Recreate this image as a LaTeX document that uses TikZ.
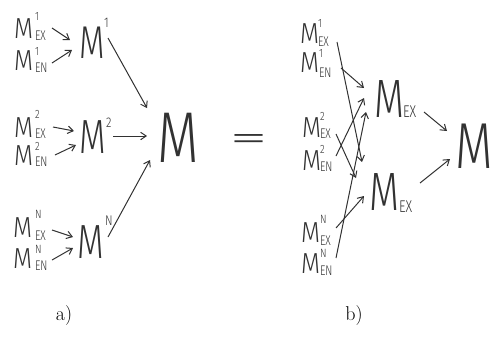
\documentclass[tikz,border=0pt]{standalone}
\usepackage{fontspec}
\usepackage{graphicx}
\usetikzlibrary{arrows.meta}
\IfFontExistsTF{Fira Sans Light}{\newfontfamily\hand{Fira Sans Light}}{%
  \IfFontExistsTF{Fira Sans ExtraLight}{\newfontfamily\hand{Fira Sans ExtraLight}}{%
    \IfFontExistsTF{Open Sans Light}{\newfontfamily\hand{Open Sans Light}}{%
      \newfontfamily\hand{Fira Sans}}}}
\definecolor{ink}{RGB}{50,50,50}
\newcommand\hw[3]{\scalebox{#1}[1]{\fontsize{#2}{#2}\selectfont\hand #3}}
\tikzset{
  glyph/.style={anchor=base west,inner sep=0pt,outer sep=0pt,text=ink},
  conn/.style={draw=ink,line width=1pt,-{Straight Barb[length=5.5pt,width=7.5pt]}},
}
% \lab{name}{x}{y}{sup}{supx}{supy}{sub}{subx}{suby}
\newcommand\lab[9]{%
  \node[glyph] (#1) at (#2,#3) {\hw{0.85}{29}{M}};
  \node[glyph] (#1-p) at (#5,#6) {\hw{0.8}{12}{#4}};
  \node[glyph] (#1-b) at (#8,#9) {\hw{0.75}{14}{#7}};
}
\begin{document}
\begin{tikzpicture}[x=1pt,y=-1pt]
\useasboundingbox (0,0) rectangle (492,343);
% ---------- a) ----------
\lab{a1x}{14}{38}{1}{35}{20}{EX}{35}{40}
\lab{a1n}{14}{70}{1}{35}{55}{EN}{35}{72}
\lab{a2x}{14}{137}{2}{35}{118}{EX}{35}{138}
\lab{a2n}{14}{165}{2}{35}{150}{EN}{35}{166}
\lab{aNx}{13}{237}{N}{35}{218}{EX}{35}{240}
\lab{aNn}{13}{268}{N}{35}{253}{EN}{35}{270}
\node[glyph] (M1) at (79,58) {\hw{0.72}{46}{M}};
\node[glyph] (M1p) at (104,27) {\hw{0.8}{14}{1}};
\node[glyph] (M2) at (79,153) {\hw{0.72}{48}{M}};
\node[glyph] (M2p) at (106,127) {\hw{0.8}{14}{2}};
\node[glyph] (MN) at (77,258) {\hw{0.72}{48}{M}};
\node[glyph] (MNp) at (105,225) {\hw{0.8}{14}{N}};
\node[glyph] (Ma) at (157,162) {\hw{0.75}{72}{M}};
\node[inner sep=0pt,text=ink] (eq) at (249,143) {\hw{2.2}{36}{=}};
% arrows a)
\coordinate (s1) at (52,28);  \coordinate (t1) at (70,40);
\coordinate (s2) at (52,63);  \coordinate (t2) at (72,50);
\coordinate (s3) at (108,38); \coordinate (t3) at (147,108);
\coordinate (s4) at (53,127); \coordinate (t4) at (74,131);
\coordinate (s5) at (55,155); \coordinate (t5) at (76,145);
\coordinate (s6) at (113,136);\coordinate (t6) at (147,136);
\coordinate (s7) at (52,230); \coordinate (t7) at (73,237);
\coordinate (s8) at (52,260); \coordinate (t8) at (73,248);
\coordinate (s9) at (108,237);\coordinate (t9) at (150,160);
\foreach \i in {1,...,9} {\draw[conn] (s\i) -- (t\i);}
% ---------- b) ----------
\lab{b1x}{300}{43}{1}{318}{27}{EX}{318}{46}
\lab{b1n}{300}{72}{1}{319}{57}{EN}{319}{77}
\lab{b2x}{302}{137}{2}{320}{120}{EX}{320}{138}
\lab{b2n}{302}{170}{2}{320}{153}{EN}{320}{171}
\lab{bNx}{301}{242}{N}{320}{223}{EX}{320}{245}
\lab{bNn}{301}{273}{N}{320}{257}{EN}{320}{275}
\node[glyph] (MU) at (374,117) {\hw{0.72}{54}{M}};
\node[glyph] (MUs) at (403,117) {\hw{0.75}{17}{EX}};
\node[glyph] (ML) at (369,210) {\hw{0.72}{54}{M}};
\node[glyph] (MLs) at (399,212) {\hw{0.75}{17}{EX}};
\node[glyph] (Mb) at (455,168) {\hw{0.75}{65}{M}};
\coordinate (u1) at (337,42);  \coordinate (v1) at (362,162);
\coordinate (u2) at (341,68);  \coordinate (v2) at (364,88);
\coordinate (u3) at (336,134); \coordinate (v3) at (356,178);
\coordinate (u4) at (336,156); \coordinate (v4) at (364,98);
\coordinate (u5) at (336,228); \coordinate (v5) at (364,196);
\coordinate (u6) at (336,258); \coordinate (v6) at (366,112);
\coordinate (u7) at (424,112); \coordinate (v7) at (447,131);
\coordinate (u8) at (420,183); \coordinate (v8) at (450,159);
\foreach \i in {1,...,8} {\draw[conn] (u\i) -- (v\i);}
% captions
\node[anchor=base,inner sep=0pt,font=\fontsize{20}{20}\selectfont] (capa) at (64,320) {a)};
\node[anchor=base,inner sep=0pt,font=\fontsize{20}{20}\selectfont] (capb) at (354,320) {b)};
\end{tikzpicture}
\end{document}
